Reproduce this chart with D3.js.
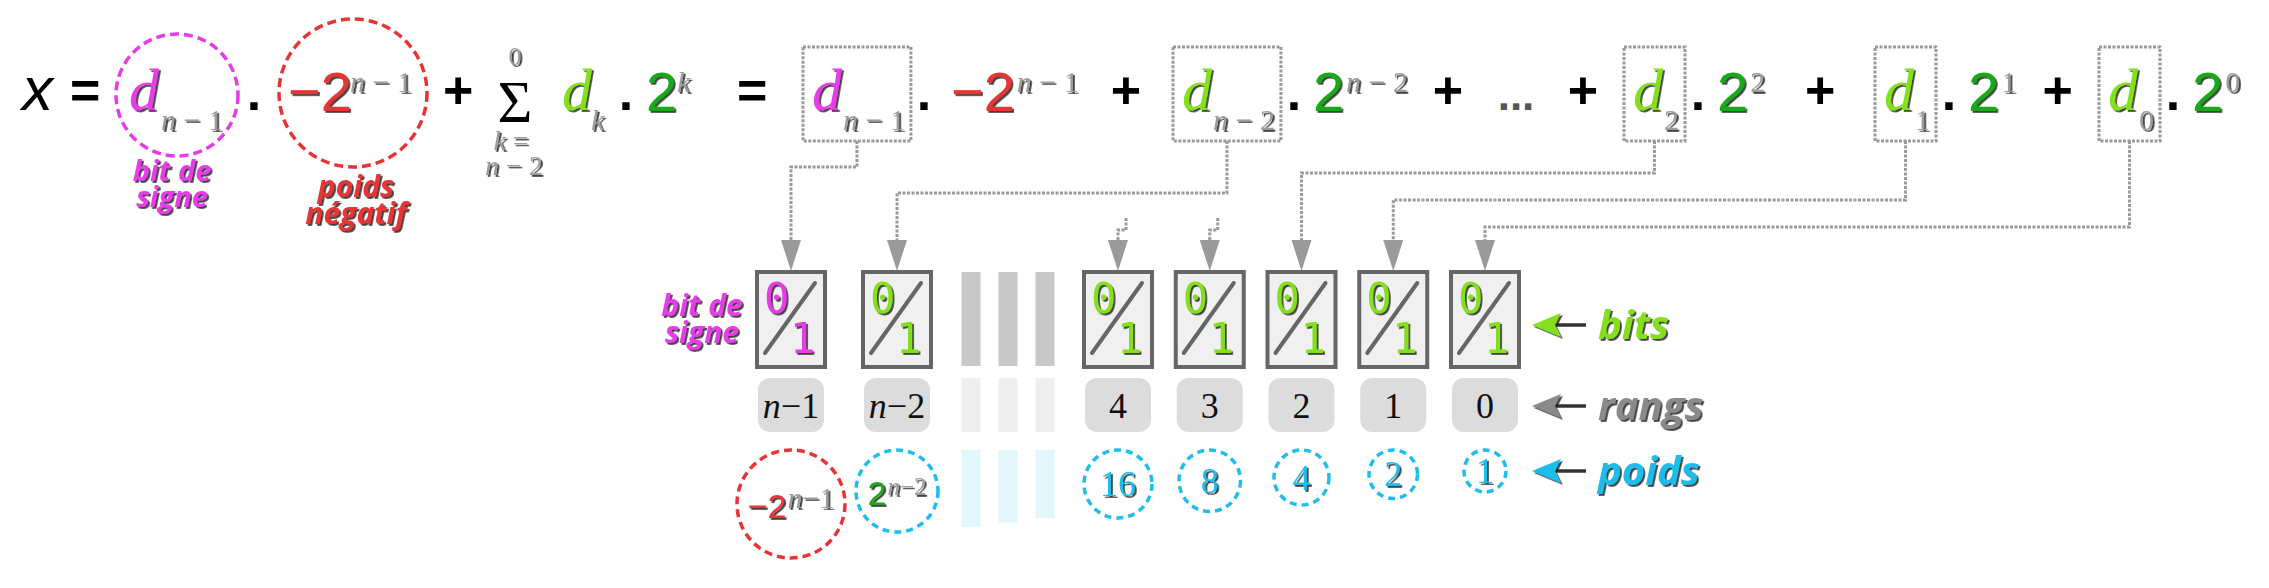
<!DOCTYPE html>
<html>
<head>
<meta charset="utf-8">
<script src="https://cdn.jsdelivr.net/npm/d3@7"></script>
<style>
  body { margin: 0; background: #fff; }
  svg { display: block; }
</style>
</head>
<body>
<svg id="fig" width="2269" height="588"></svg>
<script>
// ---- data ----
const rangs = ["n−1", "n−2", "4", "3", "2", "1", "0"];
const poidsBase = ["−2", "2", "16", "8", "4", "2", "1"];
const poidsExp = ["n−1", "n−2", "", "", "", "", ""];
const termIndex = ["n − 1", "n − 2", "2", "1", "0"];   // d_i of the expanded sum
const termRang = ["n−1", "n−2", "2", "1", "0"];        // bit box each term points to
const termExp = ["n − 1", "n − 2", "2", "1", "0"];
const stubRangs = ["4", "3"];
const gapCols = [0, 1, 2];
const rowLabels = ["bits", "rangs", "poids"];

// ---- style ----
const C = {
  magenta: "#e63ce8", red: "#e63434", lime: "#84e01c", green: "#18aa18",
  blue: "#1ebdeb", gray: "#9c9c9c", dark: "#666", arrow: "#9a9a9a", rgray: "#8a8a8a"
};
const serif = "'Liberation Serif','DejaVu Serif',serif";
const sans = "'Liberation Sans','DejaVu Sans',sans-serif";
const lab = "'Open Sans','Noto Sans','DejaVu Sans',sans-serif";
const mono = "'DejaVu Sans Mono','Liberation Mono',monospace";
const BASE = 110;

const svg = d3.select("#fig");
svg.append("defs").append("filter").attr("id", "sh")
  .attr("x", "-20%").attr("y", "-20%").attr("width", "150%").attr("height", "150%")
  .append("feDropShadow").attr("dx", 1.8).attr("dy", 1.8).attr("stdDeviation", 0.4)
  .attr("flood-color", "#1a1a1a").attr("flood-opacity", 0.85);

function txt(g, x, y, str, o) {
  const t = g.append("text").attr("x", x).attr("y", y).text(str)
    .attr("text-anchor", o.anchor || "start")
    .style("font-family", o.family).style("font-size", o.size + "px")
    .style("font-style", o.italic ? "italic" : "normal")
    .style("font-weight", o.bold ? 700 : 400)
    .style("fill", o.fill || "#000");
  if (o.shadow) t.attr("filter", "url(#sh)");
  return t;
}
function idx(g, x, y, str, size, o) {
  o = o || {};
  const t = g.append("text").attr("x", x).attr("y", y).attr("text-anchor", o.anchor || "start")
    .style("font-family", serif).style("font-size", size + "px").style("fill", o.fill || C.gray);
  if (o.shadow !== false) t.attr("filter", "url(#sh)");
  str.split(/([nk])/).filter(s => s).forEach(p => {
    t.append("tspan").style("font-style", /^[nk]$/.test(p) ? "italic" : "normal").text(p);
  });
  return t;
}
const w = t => t.node().getComputedTextLength();
const dashCircle = (g, cx, cy, r, col, dash) => g.append("circle")
  .attr("cx", cx).attr("cy", cy).attr("r", r).attr("fill", "none")
  .attr("stroke", col).attr("stroke-width", 3.5).attr("stroke-dasharray", dash);

// ---- formula, left part ----
const f = svg.append("g");
const opt = { family: sans, size: 52, bold: true };
const two = { family: sans, size: 56 };
txt(f, 22, BASE, "x", { family: sans, size: 62, italic: true });
txt(f, 70, BASE - 2, "=", opt);
dashCircle(f, 177, 95, 61, C.magenta, "9 5");
txt(f, 129, BASE, "d", { family: serif, size: 60, italic: true, fill: C.magenta, shadow: true });
idx(f, 161, BASE + 20, "n − 1", 30);
txt(f, 254, BASE, ".", Object.assign({ anchor: "middle" }, opt));
dashCircle(f, 353, 93, 74, C.red, "9 5");
txt(f, 288, BASE + 1, "−2", Object.assign({ fill: C.red, shadow: true }, two));
idx(f, 350, BASE - 18, "n − 1", 30);
txt(f, 443, BASE - 2, "+", opt);
txt(f, 515, 122, "Σ", { family: serif, size: 60, anchor: "middle" });
idx(f, 515, 65, "0", 26, { anchor: "middle" });
idx(f, 511, 150, "k =", 28, { anchor: "middle" });
idx(f, 514, 175, "n − 2", 28, { anchor: "middle" });
txt(f, 562, BASE, "d", { family: serif, size: 60, italic: true, fill: C.lime, shadow: true });
idx(f, 591, BASE + 20, "k", 30);
txt(f, 626, BASE, ".", Object.assign({ anchor: "middle" }, opt));
txt(f, 646, BASE + 1, "2", Object.assign({ fill: C.green, shadow: true }, two));
idx(f, 677, BASE - 18, "k", 30);
txt(f, 737, BASE - 2, "=", opt);
const lbl = { family: lab, size: 29, bold: true, italic: true, anchor: "middle", shadow: true };
txt(f, 172, 181, "bit de", Object.assign({}, lbl, { fill: C.magenta }));
txt(f, 172, 207, "signe", Object.assign({}, lbl, { fill: C.magenta }));
txt(f, 356, 197, "poids", Object.assign({}, lbl, { size: 30, fill: C.red }));
txt(f, 356, 224, "négatif", Object.assign({}, lbl, { size: 30, fill: C.red }));

// ---- columns (bit boxes) ----
const xLeft = d3.scalePoint().domain(rangs.slice(0, 2)).range([791, 897]);
const xRight = d3.scalePoint().domain(rangs.slice(2)).range([1118, 1485]);
const xCol = r => xLeft.domain().includes(r) ? xLeft(r) : xRight(r);
const xGap = d3.scalePoint().domain(gapCols).range([971, 1045]);
const rPoids = d3.scaleLinear().domain([0, 1, 2, 6]).range([54, 41, 34, 21]);
const hGapPoids = d3.scaleLinear().domain([0, 2]).range([77, 68]);

// ---- expanded terms ----
const termX = d3.scaleOrdinal().domain(termIndex).range([803, 1173, 1624, 1875, 2099]);
const levelY = d3.scaleOrdinal().domain(termIndex).range([167, 193, 173, 200, 227]);
const ex = svg.append("g");
const boxes = [];
termIndex.forEach((t, i) => {
  const x0 = termX(t);
  const col = i === 0 ? C.magenta : C.lime;
  const d = txt(ex, x0 + 9, BASE, "d", { family: serif, size: 60, italic: true, fill: col, shadow: true });
  const sx = x0 + 9 + w(d) + 1;
  const s = idx(ex, sx, BASE + 20, t, 30);
  const right = sx + w(s) + 6;
  ex.insert("rect", ":first-child").attr("x", x0).attr("y", 47).attr("width", right - x0).attr("height", 94)
    .attr("fill", "none").attr("stroke", C.arrow).attr("stroke-width", 3).attr("stroke-dasharray", "3 1.5");
  txt(ex, right + 13, BASE, ".", Object.assign({ anchor: "middle" }, opt));
  const b = txt(ex, right + (i === 0 ? 40 : 32), BASE + 1, i === 0 ? "−2" : "2",
    Object.assign({ fill: i === 0 ? C.red : C.green, shadow: true }, two));
  const bx = +b.attr("x") + w(b) + 2;
  const e = idx(ex, bx, BASE - 18, termExp[i], 30);
  boxes.push({ left: x0, right: right, cx: (x0 + right) / 2, supEnd: bx + w(e), rang: termRang[i], t: t });
});
// plus signs between terms
boxes.forEach((b, i) => {
  if (i === boxes.length - 1) return;
  const a = b.supEnd, n = boxes[i + 1].left;
  if (i === 1) {
    txt(ex, a + 40, BASE - 2, "+", Object.assign({ anchor: "middle" }, opt));
    txt(ex, (a + n) / 2, BASE, "...", { family: sans, size: 44, bold: true, fill: "#555", anchor: "middle" });
    txt(ex, n - 41, BASE - 2, "+", Object.assign({ anchor: "middle" }, opt));
  } else {
    txt(ex, (a + n) / 2, BASE - 2, "+", Object.assign({ anchor: "middle" }, opt));
  }
});

// ---- connectors ----
const line = d3.line();
const conn = svg.append("g").attr("fill", "none").attr("stroke", C.arrow)
  .attr("stroke-width", 3).attr("stroke-dasharray", "3 1.5");
conn.selectAll("path.c").data(boxes).enter().append("path").attr("class", "c")
  .attr("d", b => line([[b.cx, 141], [b.cx, levelY(b.t)], [xCol(b.rang), levelY(b.t)], [xCol(b.rang), 242]]));
conn.selectAll("path.s").data(stubRangs).enter().append("path").attr("class", "s")
  .attr("d", r => line([[xCol(r) + 8, 218], [xCol(r) + 8, 230], [xCol(r), 230], [xCol(r), 242]]));
svg.append("g").selectAll("polygon").data(rangs).enter().append("polygon")
  .attr("fill", C.arrow)
  .attr("points", r => [[xCol(r) - 10, 240], [xCol(r) + 10, 240], [xCol(r), 271]].join(" "));

// ---- bit boxes ----
const bitG = svg.append("g").selectAll("g").data(rangs).enter().append("g")
  .attr("transform", r => `translate(${xCol(r)},0)`);
bitG.append("rect").attr("x", -34).attr("y", 272).attr("width", 68).attr("height", 95)
  .attr("fill", "#f0f0f0").attr("stroke", C.dark).attr("stroke-width", 4);
bitG.append("line").attr("x1", -26).attr("y1", 353).attr("x2", 24).attr("y2", 283)
  .attr("stroke", C.dark).attr("stroke-width", 4).attr("stroke-linecap", "round");
bitG.each(function (r, i) {
  const g = d3.select(this), col = i === 0 ? C.magenta : C.lime;
  txt(g, -27, 313, "0", { family: mono, size: 42, fill: col, shadow: true });
  txt(g, -1, 353, "1", { family: mono, size: 42, fill: col, shadow: true });
});
svg.append("g").selectAll("rect").data(gapCols).enter().append("rect")
  .attr("x", c => xGap(c) - 9.5).attr("y", 272).attr("width", 19).attr("height", 94).attr("fill", "#c8c8c8");

// ---- rangs ----
const rG = svg.append("g").selectAll("g").data(rangs).enter().append("g")
  .attr("transform", r => `translate(${xCol(r)},0)`);
rG.append("rect").attr("x", -33).attr("y", 378).attr("width", 66).attr("height", 54).attr("rx", 12)
  .attr("fill", "#dcdcdc");
rG.each(function (r) { idx(d3.select(this), 0, 418, r, 36, { anchor: "middle", fill: "#111", shadow: false }); });
svg.append("g").selectAll("rect").data(gapCols).enter().append("rect")
  .attr("x", c => xGap(c) - 9.5).attr("y", 378).attr("width", 19).attr("height", 54).attr("fill", "#efefef");

// ---- poids ----
const pG = svg.append("g");
rangs.forEach((r, i) => {
  const cx = xCol(r), rr = rPoids(i), cy = 450 + rr;
  dashCircle(pG, cx, cy, rr, i === 0 ? C.red : C.blue, i === 0 ? "8 5" : "7 5");
  if (poidsExp[i]) {
    const g = pG.append("g");
    const b = txt(g, 0, cy + 14, poidsBase[i], { family: sans, size: 34, fill: i === 0 ? C.red : C.green, shadow: true });
    const e = idx(g, w(b) + 1, cy + 4, poidsExp[i], i === 0 ? 30 : 25);
    const tot = w(b) + 1 + w(e);
    g.attr("transform", `translate(${cx - tot / 2},0)`);
  } else {
    txt(pG, cx, cy + 12, poidsBase[i], { family: serif, size: 36, fill: C.blue, anchor: "middle", shadow: true });
  }
});
svg.append("g").selectAll("rect").data(gapCols).enter().append("rect")
  .attr("x", c => xGap(c) - 9.5).attr("y", 450).attr("width", 19).attr("height", c => hGapPoids(c))
  .attr("fill", "#e2f8fe");

// ---- left / right row labels ----
const lb = { family: lab, size: 30, bold: true, italic: true, anchor: "middle", fill: C.magenta, shadow: true };
txt(svg, 702, 316, "bit de", lb);
txt(svg, 702, 343, "signe", lb);
const rowY = d3.scaleOrdinal().domain(rowLabels).range([325, 406, 471]);
const rowCol = d3.scaleOrdinal().domain(rowLabels).range([C.lime, C.rgray, C.blue]);
const rl = svg.append("g").selectAll("g").data(rowLabels).enter().append("g")
  .attr("transform", d => `translate(0,${rowY(d)})`);
rl.append("line").attr("x1", 1552).attr("x2", 1586).attr("y1", 0).attr("y2", 0)
  .attr("stroke", "#333").attr("stroke-width", 3.5);
rl.append("polygon").attr("fill", d => rowCol(d)).attr("filter", "url(#sh)")
  .attr("points", [[1532, 0], [1561, -12], [1555, 0], [1561, 12]].join(" "));
rl.each(function (d) {
  txt(d3.select(this), 1598, 14, d, { family: lab, size: 40, bold: true, italic: true, fill: rowCol(d), shadow: true });
});
</script>
</body>
</html>
